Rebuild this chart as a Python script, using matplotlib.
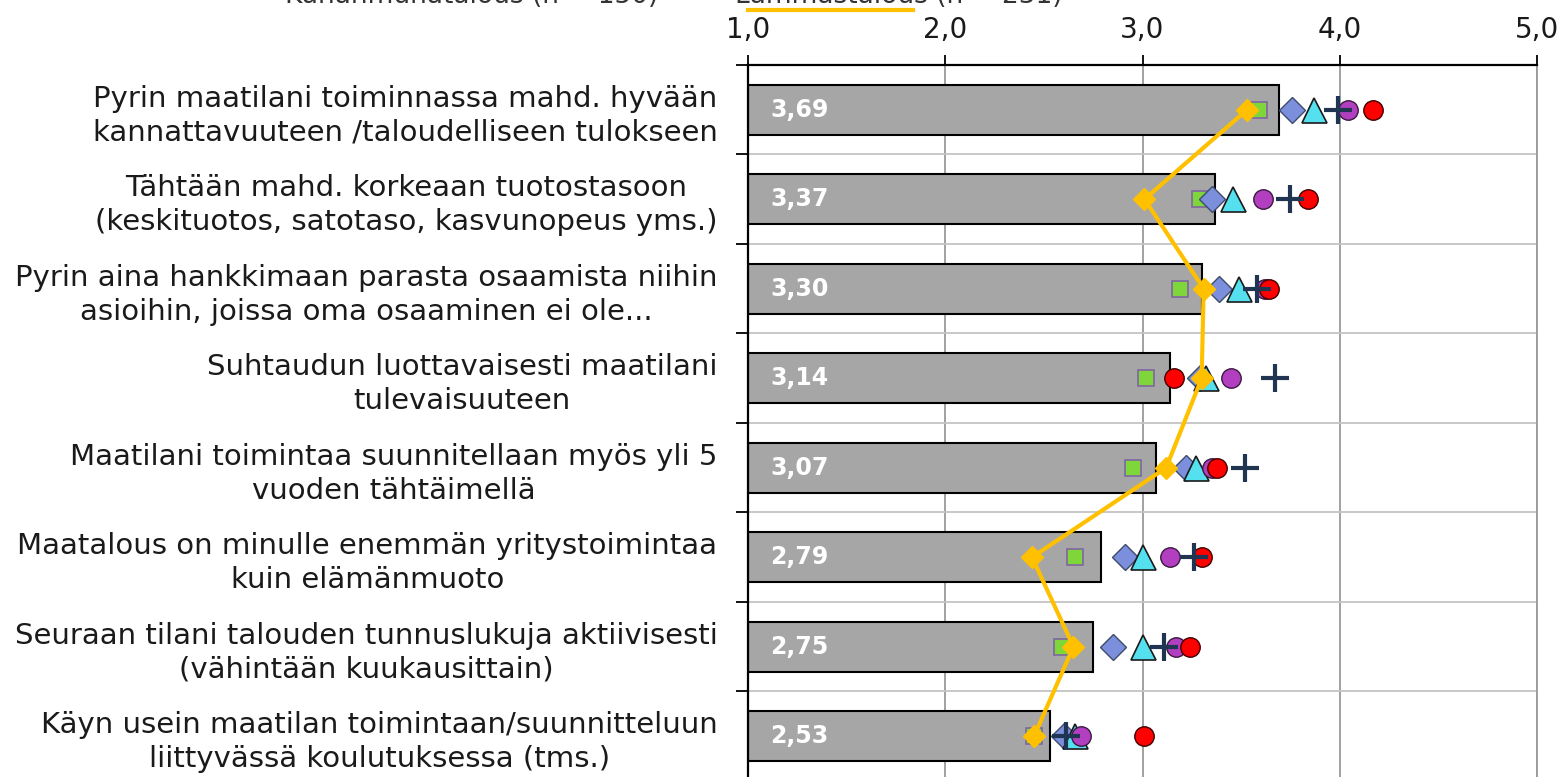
import matplotlib
matplotlib.use("Agg")
import matplotlib.pyplot as plt
from matplotlib.lines import Line2D

# väittämät (ylhäältä alas)
labels = [
    "Pyrin maatilani toiminnassa mahd. hyvään\nkannattavuuteen /taloudelliseen tulokseen",
    "Tähtään mahd. korkeaan tuotostasoon\n(keskituotos, satotaso, kasvunopeus yms.)",
    "Pyrin aina hankkimaan parasta osaamista niihin\nasioihin, joissa oma osaaminen ei ole...",
    "Suhtaudun luottavaisesti maatilani\ntulevaisuuteen",
    "Maatilani toimintaa suunnitellaan myös yli 5\nvuoden tähtäimellä",
    "Maatalous on minulle enemmän yritystoimintaa\nkuin elämänmuoto",
    "Seuraan tilani talouden tunnuslukuja aktiivisesti\n(vähintään kuukausittain)",
    "Käyn usein maatilan toimintaan/suunnitteluun\nliittyvässä koulutuksessa (tms.)",
]

# kaikki vastaajat (palkit)
kaikki = [3.69, 3.37, 3.30, 3.14, 3.07, 2.79, 2.75, 2.53]

# tuotantosuunnat (pisteet)
vihrea_nelio = [3.59, 3.29, 3.19, 3.02, 2.95, 2.66, 2.59, 2.45]
sininen_vinonelio = [3.76, 3.35, 3.39, 3.29, 3.22, 2.91, 2.85, 2.60]
kolmio = [3.87, 3.46, 3.49, 3.32, 3.27, 3.00, 3.00, 2.66]
violetti = [4.04, 3.61, 3.62, 3.45, 3.35, 3.14, 3.17, 2.69]
punainen = [4.17, 3.84, 3.64, 3.16, 3.38, 3.30, 3.24, 3.01]
risti = [3.99, 3.75, 3.58, 3.67, 3.52, 3.26, 3.11, 2.61]
lammas = [3.53, 3.01, 3.31, 3.30, 3.12, 2.44, 2.65, 2.45]

xticks = [1.0, 2.0, 3.0, 4.0, 5.0]
xticklabels = ["1,0", "2,0", "3,0", "4,0", "5,0"]

W, H = 1566, 777
fig = plt.figure(figsize=(W / 100, H / 100), dpi=100)
ax = fig.add_axes([748 / W, 1 - 781 / H, (1537 - 748) / W, (781 - 65) / H])

ypos = list(range(len(labels)))
ax.barh(ypos, [v - 1 for v in kaikki], left=1, height=0.56,
        color="#A6A6A6", edgecolor="black", linewidth=1.5, zorder=2)

for y, v in zip(ypos, kaikki):
    ax.annotate(f"{v:.2f}".replace(".", ","), (1, y), xytext=(16, 0),
                textcoords="offset points", va="center", ha="left",
                color="white", fontsize=17, fontweight="bold", zorder=3)

ax.plot(vihrea_nelio, ypos, ls="none", marker="s", ms=12, mfc="#7ED63A",
        mec="#8064A2", mew=1.2, zorder=4)
ax.plot(sininen_vinonelio, ypos, ls="none", marker="D", ms=13, mfc="#7B8FDC",
        mec="#3F4B6B", mew=1.0, zorder=4)
ax.plot(kolmio, ypos, ls="none", marker="^", ms=18, mfc="#55E0F0",
        mec="#1A1A1A", mew=1.2, zorder=4)
ax.plot(violetti, ypos, ls="none", marker="o", ms=14, mfc="#B23FBF",
        mec="#3A1A40", mew=1.0, zorder=4)
ax.plot(punainen, ypos, ls="none", marker="o", ms=14, mfc="#FF0000",
        mec="#400000", mew=1.0, zorder=4)
ax.plot(risti, ypos, ls="none", marker="+", ms=20, mec="#1F3552",
        mew=3, zorder=5)
ax.plot(lammas, ypos, color="#FFC000", lw=3, marker="D", ms=11,
        mfc="#FFC000", mec="#FFC000", zorder=6)

ax.set_xlim(1, 5)
ax.set_ylim(len(labels) - 0.5, -0.5)

ax.xaxis.tick_top()
ax.set_xticks(xticks)
ax.set_xticklabels(xticklabels, fontsize=20, color="#1a1a1a")
ax.tick_params(axis="x", direction="out", length=7, width=1.3, pad=8)

ax.set_yticks(ypos)
ax.set_yticklabels(labels, fontsize=21, color="#1a1a1a",
                   multialignment="center", linespacing=1.27)
ax.tick_params(axis="y", which="major", length=0, pad=22)
ax.set_yticks([i + 0.5 for i in range(-1, len(labels))], minor=True)
ax.tick_params(axis="y", which="minor", direction="out", length=9, width=1.3)

ax.grid(axis="x", which="major", color="#9A9A9A", lw=1.3, zorder=0)
ax.grid(axis="y", which="minor", color="#C4C4C4", lw=1.3, zorder=0)
ax.set_axisbelow(True)

ax.spines["top"].set_linewidth(1.6)
ax.spines["left"].set_linewidth(1.6)
ax.spines["right"].set_color("#9A9A9A")
ax.spines["right"].set_linewidth(1.3)
ax.spines["bottom"].set_visible(False)

# legenda jää kuvan yläreunan yli
fig.text(285 / W, 1 - 3 / H, "Kananmunatalous (n = 150)", fontsize=19,
         color="#333333", va="baseline", ha="left")
fig.text(735 / W, 1 - 3 / H, "Lammastalous (n = 231)", fontsize=19,
         color="#333333", va="baseline", ha="left")
fig.add_artist(Line2D([748 / W, 913 / W], [1 - 10 / H, 1 - 10 / H],
                      color="#FFC000", lw=3, transform=fig.transFigure))

fig.savefig("out.png", dpi=100)
